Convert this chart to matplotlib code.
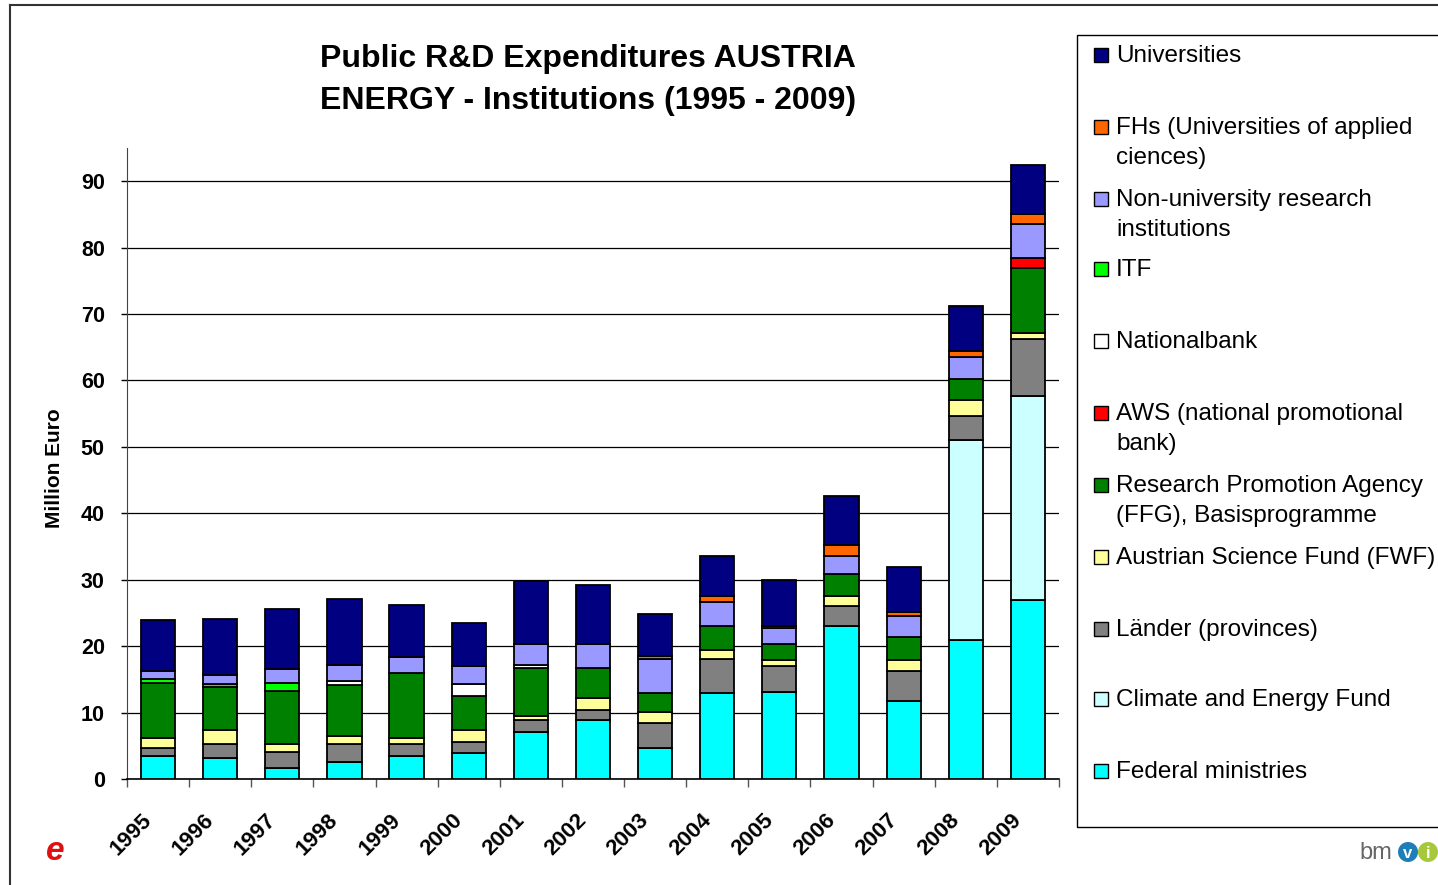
import matplotlib
matplotlib.use("Agg")
import matplotlib.pyplot as plt
from matplotlib.patches import Rectangle, Ellipse
from matplotlib.lines import Line2D
import numpy as np

# Data (million euro)
years = ["1995", "1996", "1997", "1998", "1999", "2000", "2001", "2002",
         "2003", "2004", "2005", "2006", "2007", "2008", "2009"]

federal = [3.4, 3.2, 1.7, 2.6, 3.5, 3.9, 7.1, 8.9, 4.7, 12.9, 13.1, 23.1, 11.7, 20.9, 26.9]
climate_fund = [0, 0, 0, 0, 0, 0, 0, 0, 0, 0, 0, 0, 0, 30.1, 30.8]
laender = [1.3, 2.1, 2.4, 2.7, 1.7, 1.7, 1.8, 1.5, 3.7, 5.1, 3.9, 3.0, 4.5, 3.6, 8.5]
fwf = [1.4, 2.1, 1.2, 1.2, 1.0, 1.8, 0.6, 1.8, 1.7, 1.4, 0.9, 1.5, 1.7, 2.4, 1.0]
ffg = [8.4, 6.5, 8.0, 7.6, 9.7, 5.1, 7.2, 4.5, 2.8, 3.6, 2.4, 3.3, 3.4, 3.2, 9.8]
aws = [0, 0, 0, 0, 0, 0, 0, 0, 0, 0, 0, 0, 0, 0, 1.5]
nationalbank = [0, 0, 0, 0.6, 0, 1.8, 0.4, 0, 0, 0, 0, 0, 0, 0, 0]
itf = [0.5, 0.4, 1.2, 0, 0, 0, 0, 0, 0, 0, 0, 0, 0, 0, 0]
non_univ = [1.3, 1.4, 2.0, 2.5, 2.4, 2.7, 3.2, 3.6, 5.1, 3.6, 2.4, 2.7, 3.3, 3.4, 5.0]
fhs = [0, 0, 0, 0, 0, 0, 0, 0, 0.5, 0.9, 0.3, 1.6, 0.6, 0.9, 1.5]
universities = [7.6, 8.4, 9.1, 9.9, 7.9, 6.5, 9.5, 8.9, 6.4, 6.1, 7.0, 7.4, 6.7, 6.7, 7.4]

# stacking order, bottom to top
series = [
    ("Federal ministries", federal, "#00FFFF"),
    ("Climate and Energy Fund", climate_fund, "#CCFFFF"),
    ("Länder (provinces)", laender, "#808080"),
    ("Austrian Science Fund (FWF)", fwf, "#FFFF99"),
    ("Research Promotion Agency\n(FFG), Basisprogramme", ffg, "#008000"),
    ("AWS (national promotional\nbank)", aws, "#FF0000"),
    ("Nationalbank", nationalbank, "#FFFFFF"),
    ("ITF", itf, "#00FF00"),
    ("Non-university research\ninstitutions", non_univ, "#9999FF"),
    ("FHs (Universities of applied\nciences)", fhs, "#FF6600"),
    ("Universities", universities, "#000080"),
]

font = ["Liberation Sans", "DejaVu Sans"]
plt.rcParams["font.family"] = font

fig = plt.figure(figsize=(14.38, 8.85), dpi=100)
ax = fig.add_axes([0.0883, 0.1198, 0.6481, 0.7130])

x = np.arange(len(years))
bottom = np.zeros(len(years))
for name, vals, col in series:
    vals = np.array(vals, dtype=float)
    mask = vals > 0
    ax.bar(x[mask], vals[mask], bottom=bottom[mask], width=0.55, color=col,
           edgecolor="black", linewidth=1.3, zorder=3)
    bottom += vals

ax.set_xlim(-0.5, len(years) - 0.5)
ax.set_ylim(0, 95)
ax.set_yticks(range(0, 100, 10))
ax.yaxis.grid(True, color="black", linewidth=0.9, zorder=0)
ax.tick_params(axis="y", length=4, width=1, pad=12, labelsize=15.5)
for lab in ax.get_yticklabels():
    lab.set_fontweight("bold")

# category boundaries get the tick marks, labels sit under bar centres
ax.set_xticks(np.arange(-0.5, len(years), 1.0))
ax.set_xticklabels([])
ax.tick_params(axis="x", length=6, width=1, color="#555555")
for i, yr in enumerate(years):
    ax.annotate(yr, xy=(i, 0), xycoords=("data", "axes fraction"),
                xytext=(-12, -22), textcoords="offset points",
                rotation=45, ha="right", va="top", rotation_mode="anchor",
                fontsize=16, fontweight="bold")

for s in ["top", "right"]:
    ax.spines[s].set_visible(False)
ax.spines["left"].set_color("#444444")
ax.spines["bottom"].set_linewidth(1.2)

fig.text(55 / 1438, 1 - 468 / 885, "Million Euro", rotation=90, ha="center",
         va="center", fontsize=15, fontweight="bold")

fig.text(588 / 1438, 1 - 80 / 885,
         "Public R&D Expenditures AUSTRIA\nENERGY - Institutions (1995 - 2009)",
         ha="center", va="center", fontsize=23, fontweight="bold", linespacing=1.5)

# legend box drawn by hand to keep the even row spacing of the original
W, H = 1438.0, 885.0
fig.patches.append(Rectangle((1077 / W, 1 - 827 / H), 400 / W, 792 / H,
                             transform=fig.transFigure, facecolor="white",
                             edgecolor="black", linewidth=1.0))
row_y = [55, 127, 199, 269, 341, 413, 485, 557, 629, 699, 771]
for (name, vals, col), ry in zip(series[::-1], row_y):
    fig.patches.append(Rectangle((1094 / W, 1 - (ry + 7) / H), 14 / W, 14 / H,
                                 transform=fig.transFigure, facecolor=col,
                                 edgecolor="black", linewidth=1.0))
    fig.text(1116 / W, 1 - (ry - 10) / H, name, ha="left", va="top",
             fontsize=17.5, linespacing=1.45)

# outer frame of the slide
fig.add_artist(Line2D([10 / W, 10 / W], [0, 1 - 5 / H], transform=fig.transFigure,
                      color="#333333", linewidth=1.5))
fig.add_artist(Line2D([10 / W, 1], [1 - 5 / H, 1 - 5 / H], transform=fig.transFigure,
                      color="#333333", linewidth=1.5))

# logos, roughly
fig.text(55 / W, 1 - 851 / H, "e", color="#DD1111", fontsize=24, fontstyle="italic",
         fontweight="bold", ha="center", va="center")
fig.text(1376 / W, 1 - 853 / H, "bm", color="#666666", fontsize=17, ha="center", va="center")
fig.patches.append(Ellipse((1408 / W, 1 - 852 / H), 20 / W, 20 / H, transform=fig.transFigure,
                           facecolor="#1E7FB8", edgecolor="none"))
fig.patches.append(Ellipse((1428 / W, 1 - 852 / H), 20 / W, 20 / H, transform=fig.transFigure,
                           facecolor="#A8C83C", edgecolor="none"))
fig.text(1408 / W, 1 - 853 / H, "v", color="white", fontsize=12, fontweight="bold",
         ha="center", va="center")
fig.text(1428 / W, 1 - 853 / H, "i", color="white", fontsize=12, fontweight="bold",
         ha="center", va="center")

fig.savefig("out.png", dpi=100)
